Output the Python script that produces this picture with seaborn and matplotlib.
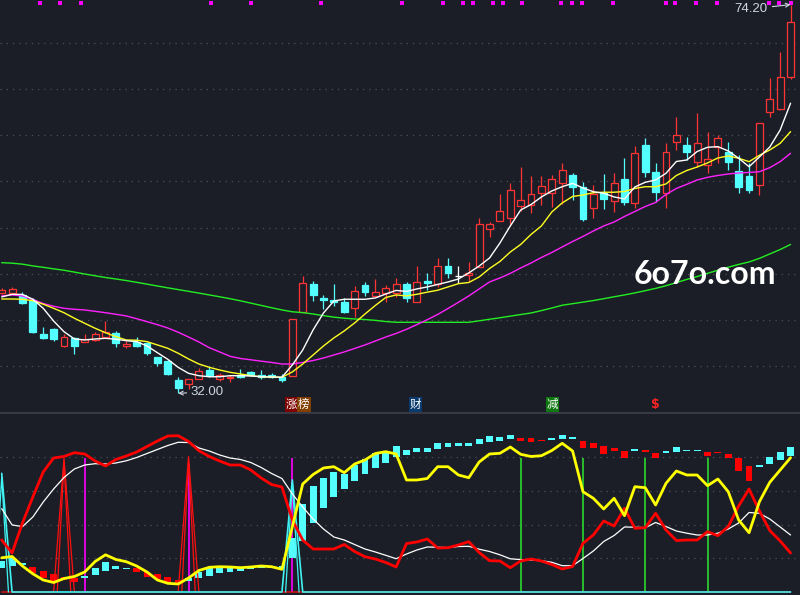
import numpy as np
import pandas as pd
import matplotlib
matplotlib.use("Agg")
import matplotlib.pyplot as plt
from matplotlib.lines import Line2D
import seaborn as sns

sns.set_theme(style="dark")
plt.rcParams['font.family'] = ['Noto Sans CJK SC', 'DejaVu Sans']

# ---------------- data ----------------
opens = [42.86, 42.86, 42.68, 42.13, 38.44, 38.95, 37.17, 37.97, 37.61, 37.79,
         38.15, 38.58, 37.14, 37.61, 37.43, 35.91, 35.54, 33.45, 33.01, 33.55,
         34.53, 33.55, 33.63, 33.99, 34.28, 33.99, 33.99, 33.74, 33.91, 40.80,
         43.84, 42.38, 42.13, 41.92, 41.23, 43.76, 42.60, 42.86, 42.86, 43.84,
         41.95, 44.20, 43.84, 45.82, 44.77, 44.85, 45.75, 49.81, 50.74, 51.00,
         52.37, 52.45, 53.78, 53.72, 54.80, 55.70, 54.37, 52.09, 53.78, 52.91,
         55.24, 52.63, 58.96, 56.03, 53.72, 59.25, 58.96, 57.08, 56.79, 58.78,
         58.23, 56.14, 55.63, 54.62, 62.51, 62.84, 66.31]
highs = [43.38, 43.55, 42.97, 42.35, 39.23, 39.09, 38.44, 38.11, 38.44, 38.69,
         39.85, 38.77, 37.68, 38.08, 37.57, 35.94, 35.62, 33.74, 33.55, 34.78,
         34.96, 34.24, 33.99, 34.61, 34.42, 34.53, 34.20, 34.10, 40.04, 44.74,
         44.20, 42.68, 43.84, 42.35, 43.65, 44.09, 44.38, 43.76, 44.52, 44.09,
         45.82, 45.03, 46.66, 46.66, 45.82, 46.29, 51.00, 50.60, 53.64, 54.80,
         56.60, 55.59, 55.59, 55.70, 56.97, 55.89, 54.98, 54.62, 55.81, 55.89,
         57.52, 58.88, 59.75, 56.97, 59.14, 61.97, 59.86, 62.40, 60.41, 60.05,
         59.32, 57.88, 56.97, 61.40, 66.20, 69.02, 74.20]
lows = [42.78, 42.78, 41.67, 38.52, 37.90, 37.71, 37.03, 36.27, 37.57, 37.68,
        38.11, 37.06, 36.89, 37.06, 36.16, 35.00, 33.96, 32.00, 32.44, 33.50,
        33.80, 33.37, 33.26, 33.66, 33.91, 33.59, 33.66, 33.26, 33.85, 40.80,
        42.06, 41.15, 41.51, 40.69, 40.32, 42.60, 42.49, 41.95, 42.49, 41.95,
        41.92, 43.22, 43.55, 44.49, 43.95, 44.23, 45.66, 49.00, 50.66, 50.38,
        51.79, 51.55, 52.45, 52.26, 52.56, 52.99, 50.71, 51.00, 51.98, 51.72,
        52.45, 52.09, 55.52, 52.80, 52.09, 58.42, 57.33, 56.60, 55.95, 56.97,
        56.25, 53.72, 53.78, 53.53, 62.03, 62.76, 66.13]
closes = [43.22, 43.29, 41.84, 38.69, 38.04, 37.90, 38.15, 37.17, 37.90, 38.44,
          38.69, 37.43, 37.36, 37.14, 36.41, 35.26, 34.10, 32.61, 33.55, 34.42,
          33.99, 33.99, 33.80, 33.74, 33.99, 33.74, 33.74, 33.45, 40.04, 43.95,
          42.68, 42.17, 41.92, 40.86, 43.08, 43.03, 42.97, 43.40, 43.84, 42.31,
          44.05, 44.01, 45.79, 45.10, 44.77, 45.03, 50.38, 50.38, 51.79, 54.08,
          52.99, 53.64, 54.51, 55.24, 56.21, 54.43, 50.93, 53.61, 53.06, 54.80,
          52.74, 58.06, 56.06, 53.89, 58.23, 60.05, 58.17, 59.14, 57.41, 59.69,
          57.15, 54.43, 54.08, 61.32, 63.92, 66.31, 72.28]

ma_white = [42.46, 42.75, 42.73, 42.21, 41.23, 39.85, 38.69, 37.90, 37.79, 37.90,
            37.97, 37.87, 37.71, 37.61, 37.14, 36.41, 35.69, 34.82, 34.17, 33.91,
            33.80, 33.80, 33.91, 33.91, 33.88, 33.80, 33.77, 33.74, 35.08, 36.70,
            38.88, 40.72, 42.02, 42.21, 42.21, 42.21, 42.35, 42.78, 43.17, 43.06,
            43.33, 43.55, 43.82, 44.09, 44.41, 45.07, 45.82, 46.69, 48.32, 50.17,
            51.90, 52.50, 53.32, 53.97, 54.43, 54.80, 54.29, 53.89, 53.72, 53.32,
            53.10, 54.40, 54.91, 55.16, 55.89, 57.17, 57.33, 58.25, 58.71, 58.78,
            58.31, 57.52, 56.60, 57.66, 58.74, 60.59, 63.49]
ma_yellow = [42.24, 42.24, 42.21, 42.06, 41.67, 41.23, 40.75, 40.15, 39.60, 39.06,
             38.58, 38.15, 37.79, 37.76, 37.61, 37.25, 36.89, 36.35, 35.73, 35.18,
             34.82, 34.53, 34.28, 34.10, 33.91, 33.80, 33.77, 33.74, 34.32, 35.18,
             36.16, 37.14, 38.01, 38.77, 39.64, 40.61, 41.54, 42.40, 42.68, 42.57,
             42.75, 42.98, 43.19, 43.55, 43.90, 44.03, 44.63, 45.55, 46.31, 47.34,
             48.16, 49.25, 50.17, 51.69, 52.67, 53.37, 53.53, 53.78, 53.83, 53.83,
             53.91, 54.24, 54.43, 54.43, 54.73, 55.65, 56.19, 56.57, 57.01, 57.55,
             57.77, 57.52, 57.15, 57.84, 58.42, 59.14, 60.41]
ma_magenta = [42.57, 42.68, 42.57, 42.19, 41.75, 41.45, 41.23, 41.12, 41.05, 40.90,
              40.75, 40.58, 40.40, 40.10, 39.78, 39.45, 39.09, 38.63, 38.11, 37.57,
              36.95, 36.49, 36.02, 35.78, 35.64, 35.49, 35.35, 35.18, 35.18, 35.35,
              35.56, 35.83, 36.16, 36.49, 36.87, 37.25, 37.68, 38.11, 38.50, 38.95,
              39.46, 39.99, 40.56, 41.21, 41.88, 42.57, 43.33, 44.09, 44.52, 45.02,
              45.61, 46.15, 46.75, 47.29, 47.89, 48.48, 49.03, 49.62, 50.17, 50.60,
              51.20, 51.74, 52.28, 52.72, 53.59, 54.24, 54.69, 55.16, 55.45, 55.65,
              55.81, 55.92, 55.98, 56.06, 56.50, 57.15, 58.06]
ma_green = [46.18, 46.13, 46.02, 45.83, 45.68, 45.51, 45.36, 45.16, 44.95, 44.76,
            44.57, 44.41, 44.24, 44.05, 43.85, 43.65, 43.45, 43.26, 43.07, 42.88,
            42.68, 42.48, 42.27, 42.04, 41.79, 41.54, 41.29, 41.05, 40.85, 40.76,
            40.61, 40.43, 40.27, 40.15, 40.07, 40.01, 39.92, 39.79, 39.71, 39.71,
            39.71, 39.71, 39.71, 39.71, 39.71, 39.71, 39.87, 40.04, 40.20, 40.38,
            40.55, 40.72, 40.98, 41.26, 41.56, 41.73, 41.90, 42.07, 42.27, 42.48,
            42.68, 42.90, 43.14, 43.39, 43.68, 44.02, 44.36, 44.68, 45.02, 45.36,
            45.69, 45.99, 46.26, 46.65, 47.13, 47.61, 48.16]

price_grid = [35, 40, 45, 50, 55, 60, 65, 70]
high_label = "74.20"
low_label = "32.00"

dot_x = [3.7, 5.65, 7.6, 20.2, 24.0, 30.8, 38.6, 42.5, 44.45, 45.4, 47.35, 48.3, 50.1,
         53.9, 54.9, 55.9, 58.9, 64.0, 64.9, 66.9, 68.9, 73.95, 74.9, 76.0]

tag_text = ['涨', '榜', '财', '减', '$']
tag_x = [27.94, 29.11, 39.87, 53.04, 62.97]
tag_bg = ['#7f0000', '#824000', '#0b3a6e', '#107810', None]

# ---- lower indicator panel ----
osc_hi = [18.40, 20.36, 17.39, 15.01, 12.46, 10.68, 9.08, 8.49, 9.50, 14.42,
          17.98, 15.43, 14.42, 14.07, 11.69, 10.68, 9.08, 7.12, 8.13, 12.05,
          14.07, 14.42, 15.01, 14.42, 15.43, 15.61, 15.43, 15.43, 31.87, 52.23,
          62.91, 67.83, 71.04, 70.03, 75.37, 78.93, 82.31, 83.68, 86.65, 84.27,
          85.64, 85.64, 88.25, 88.25, 88.25, 88.25, 90.80, 92.58, 91.81, 93.18,
          91.22, 91.22, 90.39, 91.57, 93.18, 91.99, 89.61, 88.61, 86.65, 85.64,
          83.68, 84.87, 84.27, 82.67, 83.68, 86.23, 84.45, 84.45, 83.26, 83.26,
          82.08, 79.35, 74.96, 75.37, 80.30, 83.26, 86.23]
osc_lo = [14.07, 15.61, 16.02, 11.45, 8.13, 6.11, 7.12, 6.11, 8.49, 10.09,
          12.64, 13.47, 13.83, 12.05, 9.08, 7.54, 5.76, 5.16, 6.53, 8.49,
          9.50, 11.45, 12.05, 12.64, 13.47, 14.07, 14.50, 14.24, 20.00, 30.45,
          41.13, 50.03, 56.56, 61.13, 66.05, 70.03, 73.77, 76.74, 80.30, 81.31,
          82.91, 83.26, 84.87, 86.23, 86.82, 86.82, 87.83, 89.20, 89.79, 90.80,
          89.79, 89.20, 89.79, 90.39, 90.80, 90.98, 85.64, 85.64, 81.90, 83.86,
          79.70, 83.86, 83.26, 79.35, 82.67, 83.26, 83.86, 83.86, 80.71, 82.67,
          79.35, 71.99, 66.05, 74.36, 75.96, 78.34, 80.71]
osc_sign = list("ccc" + "rrrrr" + "ccccc" + "rrrrr" + "c" * 32 + "rrr" + "ccc"
                + "rrrrr" + "c" + "rr" + "cccc" + "rrrrr" + "cccc")

red_line = [30.86, 23.15, 40.95, 56.38, 71.22, 79.53, 80.42, 82.67, 81.90, 77.74,
            74.78, 78.64, 80.71, 83.09, 86.35, 89.61, 92.58, 92.76, 89.32, 83.86,
            80.42, 77.74, 75.37, 75.37, 72.40, 67.66, 63.80, 62.31, 42.73, 30.86,
            25.52, 25.52, 25.52, 28.19, 24.04, 20.95, 19.58, 17.51, 14.84, 28.78,
            29.67, 31.45, 26.11, 26.29, 27.89, 29.85, 23.44, 18.58, 18.40, 14.42,
            18.40, 19.58, 18.40, 16.32, 13.65, 15.13, 28.90, 33.83, 42.14, 39.17,
            49.67, 37.80, 38.16, 46.71, 36.80, 30.56, 30.86, 30.86, 35.79, 33.41,
            38.87, 51.04, 61.13, 48.07, 36.50, 30.27, 23.15]
white_line = [49.50, 39.80, 38.80, 44.51, 53.41, 61.13, 67.95, 73.00, 75.37, 76.14,
              75.96, 76.56, 77.86, 79.82, 82.20, 84.57, 86.94, 88.84, 88.72, 85.46,
              83.68, 81.31, 79.53, 78.64, 76.85, 73.89, 70.33, 67.36, 58.16, 50.45,
              43.32, 37.39, 32.64, 30.86, 28.19, 25.52, 23.74, 21.78, 19.76, 22.55,
              24.93, 26.71, 26.59, 26.35, 27.00, 27.12, 25.40, 24.04, 22.08, 19.70,
              19.23, 18.99, 18.58, 17.63, 15.61, 15.61, 19.88, 24.33, 29.97, 33.53,
              38.58, 38.46, 38.16, 41.25, 38.87, 36.20, 34.90, 33.83, 33.83, 34.90,
              37.39, 40.95, 47.18, 46.71, 43.32, 38.58, 33.83]
yellow_line = [20.30, 21.07, 15.43, 10.80, 7.12, 5.64, 8.01, 9.20, 11.87, 18.10,
               22.08, 19.29, 17.98, 15.43, 11.87, 7.12, 5.16, 4.75, 8.31, 12.76,
               14.66, 15.01, 14.84, 14.42, 14.84, 15.43, 15.01, 13.47, 38.75, 64.09,
               69.73, 73.59, 74.36, 70.80, 75.96, 78.34, 82.20, 83.26, 81.90, 66.47,
               66.47, 67.36, 74.36, 74.36, 69.44, 67.83, 77.15, 81.90, 82.31, 86.05,
               81.72, 80.42, 80.89, 83.98, 88.25, 83.68, 59.52, 55.61, 49.26, 55.61,
               45.28, 62.49, 61.90, 51.63, 64.51, 71.81, 69.44, 69.44, 63.09, 67.06,
               59.52, 42.73, 35.19, 53.59, 65.10, 72.40, 79.70]

red_spike_idx = [6, 18]
red_spike_val = [79.3, 80.3]
cyan_spike_idx = [0, 28]
cyan_spike_val = [70.4, 66.5]
magenta_idx = [8, 18, 28]
magenta_top = [79.7, 76.0, 79.4]
green_idx = [50, 56, 62, 68]
green_top = [79.7, 79.7, 79.7, 79.7]
osc_grid = [20, 40, 60, 80]

# ---------------- styling ----------------
BG = '#1c1e27'
RED = '#ff3434'
CYAN = '#54ffff'
GRID = '#4c4f5a'
TXT = '#cdd6e2'

n = len(closes)
idx = np.arange(n)
df = pd.DataFrame({'i': idx, 'o': opens, 'h': highs, 'l': lows, 'c': closes,
                   'w': ma_white, 'y': ma_yellow, 'm': ma_magenta, 'g': ma_green,
                   'rl': red_line, 'wl': white_line, 'yl': yellow_line,
                   'ohi': osc_hi, 'olo': osc_lo, 'os': osc_sign})

W, H = 800, 595
fig = plt.figure(figsize=(W / 100, H / 100), dpi=100, facecolor=BG)
ax1 = fig.add_axes([0, 1 - 412 / H, 1, 412 / H])
ax2 = fig.add_axes([0, 0, 1, 182 / H])
for ax in (ax1, ax2):
    ax.set_facecolor(BG)
    ax.set_axis_off()

# separator
fig.add_artist(Line2D([0, 1], [1 - 412.7 / H] * 2, color='#3a3d48', lw=1.3,
                      transform=fig.transFigure))

# grids
for g in price_grid:
    ax1.axhline(g, color=GRID, lw=0.9, ls=(0, (1, 4)), zorder=1)
for g in osc_grid:
    ax2.axhline(g, color=GRID, lw=0.9, ls=(0, (1, 4)), zorder=1)

# ---------------- candles ----------------
up = df['c'] > df['o']
doji = df['c'] == df['o']
edge = np.where(doji, 'white', np.where(up, RED, CYAN))
face = np.where(doji, 'white', np.where(up, BG, CYAN))
ax1.vlines(df['i'], df['l'], df['h'], colors=edge, lw=0.9, zorder=3)
ax1.bar(df['i'], (df['c'] - df['o']).abs(), bottom=np.minimum(df['o'], df['c']),
        width=0.66, color=face, edgecolor=edge, linewidth=0.9, zorder=4)

# moving averages
sns.lineplot(data=df, x='i', y='g', ax=ax1, color='#22ee22', lw=1.0, estimator=None, zorder=5)
sns.lineplot(data=df, x='i', y='m', ax=ax1, color='#ff22ff', lw=1.0, estimator=None, zorder=5)
sns.lineplot(data=df, x='i', y='y', ax=ax1, color='#ffff22', lw=1.0, estimator=None, zorder=5)
sns.lineplot(data=df, x='i', y='w', ax=ax1, color='#ffffff', lw=1.0, estimator=None, zorder=6)

# magenta signal dots at top
ax1.scatter(dot_x, [74.42] * len(dot_x), marker='s', s=6.5, color='#ff00ff',
            linewidths=0, clip_on=False, zorder=7)

# high / low annotations
hi_i = int(np.argmax(highs))
lo_i = int(np.argmin(lows))
ax1.annotate(high_label, xy=(hi_i, highs[hi_i]), xytext=(hi_i - 2.2, highs[hi_i] - 0.47),
             ha='right', va='center', color=TXT, fontsize=9.5, family=['Liberation Sans', 'DejaVu Sans'],
             arrowprops=dict(arrowstyle='->', color=TXT, lw=0.8, shrinkA=1, shrinkB=0,
                             mutation_scale=7), zorder=8)
ax1.annotate(low_label, xy=(lo_i, lows[lo_i]), xytext=(lo_i + 1.2, lows[lo_i] + 0.15),
             ha='left', va='center', color=TXT, fontsize=9.5, family=['Liberation Sans', 'DejaVu Sans'],
             arrowprops=dict(arrowstyle='->', color=TXT, lw=0.8, shrinkA=0.5, shrinkB=0,
                             mutation_scale=7), zorder=8)

# tags
for t, tx, bg in zip(tag_text, tag_x, tag_bg):
    if bg is None:
        ax1.text(tx, 30.79, t, color='#ff2222', fontsize=9, fontweight='bold',
                 ha='center', va='center', family=['DejaVu Sans'], zorder=8)
    else:
        ax1.text(tx, 30.79, t, color='white', fontsize=8.3, ha='center', va='center',
                 bbox=dict(boxstyle='square,pad=0.08', fc=bg, ec='none'), zorder=8)

# watermark
fig.text(705 / W, 1 - 275 / H, '6o7o.com', color='white', fontsize=23, fontweight='bold',
         ha='center', va='center', family=['Lato', 'DejaVu Sans'], zorder=10)

# ---------------- lower panel ----------------
ax2.vlines(green_idx, 0, green_top, colors='#2ee82e', lw=1.1, zorder=2)
ax2.vlines(magenta_idx, 0, magenta_top, colors='#ff00ff', lw=1.2, zorder=2)

ocol = np.where(df['os'] == 'r', '#ff0000', CYAN)
ax2.bar(df['i'], df['ohi'] - df['olo'], bottom=df['olo'], width=0.66, color=ocol,
        linewidth=0, zorder=3)

# spike series (zero except at signals)
red_spike = np.zeros(n)
red_spike[red_spike_idx] = red_spike_val
cyan_spike = np.zeros(n)
cyan_spike[cyan_spike_idx] = cyan_spike_val
sns.lineplot(x=idx, y=red_spike, ax=ax2, color='#ff1010', lw=0.9, estimator=None, zorder=4)
for p, v in zip(red_spike_idx, red_spike_val):
    sns.lineplot(x=[p - 0.65, p, p + 0.65], y=[0, v * 0.97, 0], ax=ax2, color='#ff1010',
                 lw=0.9, estimator=None, sort=False, zorder=4)
sns.lineplot(x=idx, y=cyan_spike, ax=ax2, color='#40f4f4', lw=1.2, estimator=None, zorder=4)
for p, v in zip(cyan_spike_idx, cyan_spike_val):
    sns.lineplot(x=[p - 0.65, p, p + 0.65], y=[0, v * 0.97, 0], ax=ax2, color='#40f4f4',
                 lw=0.9, estimator=None, sort=False, zorder=4)

sns.lineplot(data=df, x='i', y='wl', ax=ax2, color='white', lw=0.9, estimator=None, zorder=5)
sns.lineplot(data=df, x='i', y='rl', ax=ax2, color='#ff0000', lw=2.0, estimator=None, zorder=6)
sns.lineplot(data=df, x='i', y='yl', ax=ax2, color='#ffff00', lw=2.0, estimator=None, zorder=7)

for ax in (ax1, ax2):
    leg = ax.get_legend()
    if leg:
        leg.remove()
    ax.set_xlim(-0.164, 76.91)
ax1.set_ylim(29.97, 74.70)
ax2.set_ylim(-1.78, 106.23)

fig.savefig('out.png', dpi=100, facecolor=BG)
